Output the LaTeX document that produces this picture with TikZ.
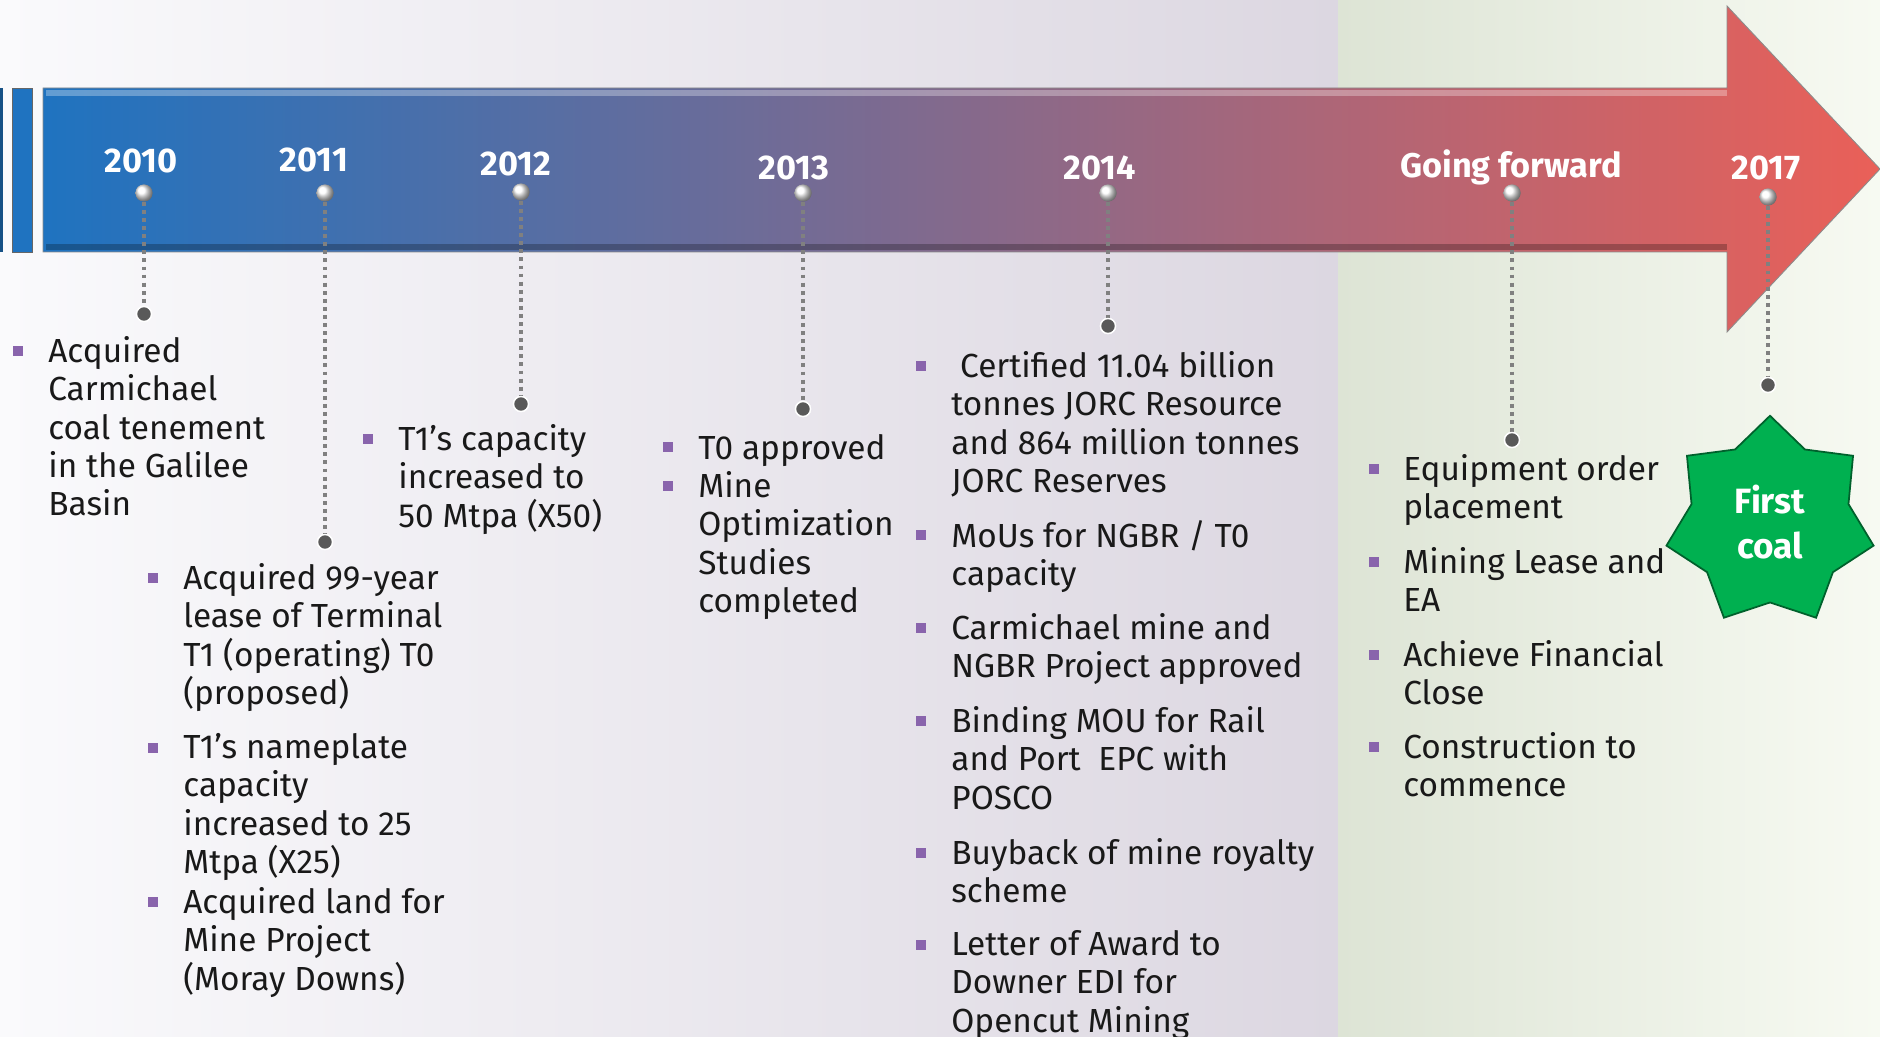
\documentclass[tikz,border=0pt]{standalone}
\usepackage{fontspec}
\setmainfont{Fira Sans}
\usetikzlibrary{positioning, shapes.geometric, calc}

\definecolor{barblue}{RGB}{31,115,192}
\definecolor{barmid}{RGB}{125,102,148}
\definecolor{barred}{RGB}{234,96,88}
\definecolor{bulpurple}{RGB}{137,100,172}
\definecolor{dotgrey}{RGB}{128,128,128}
\definecolor{stargreen}{RGB}{0,176,80}
\definecolor{bgleft}{RGB}{250,250,252}
\definecolor{bgmid}{RGB}{220,215,225}
\definecolor{bggreen}{RGB}{221,228,213}
\definecolor{bgright}{RGB}{247,250,242}

\begin{document}
\begin{tikzpicture}[x=0.02cm, y=-0.02cm,
  year/.style={text=white, font=\fontsize{19.5}{22}\selectfont\bfseries, inner sep=0pt},
  item/.style={anchor=north west, align=left, inner sep=0pt, text=black!90,
    font=\fontsize{19}{21.85}\selectfont, execute at begin node=\strut},
  bul/.style={rectangle, fill=bulpurple, minimum size=0.19cm, inner sep=0pt},
  topdot/.style={circle, ball color=white, minimum size=0.34cm, inner sep=0pt},
  enddot/.style={circle, fill=black!65, draw=white, line width=0.8pt, minimum size=0.3cm, inner sep=0pt},
  link/.style={dotgrey, line width=1.8pt, dash pattern=on 2.2pt off 2.4pt}]

  % background
  \fill[left color=bgleft, right color=bgmid] (0,0) rectangle (1338,1037);
  \fill[left color=bggreen, right color=bgright] (1338,0) rectangle (1880,1037);
  \useasboundingbox (0,0) rectangle (1880,1037);

  % timeline arrow
  \fill[barblue!70!black] (0,88) rectangle (3,252);
  \draw[fill=barblue, draw=black!60] (12,88) rectangle (32,252);
  \draw[draw=black!45, line width=0.5pt, left color=barblue, middle color=barmid, right color=barred]
    (43,88) -- (1727,88) -- (1727,6) -- (1880,169) -- (1727,332) -- (1727,252) -- (43,252) -- cycle;
  \draw[white, opacity=0.3, line width=3pt] (46,93) -- (1727,93);
  \draw[black, opacity=0.25, line width=3pt] (46,247) -- (1727,247);

  % years, dots and links
  \foreach \n/\x/\yt/\ye/\lab/\lx/\ly in {10/144/193/314/2010/141/161,
      11/325/193/542/2011/314/160, 12/521/192/404/2012/516/164,
      13/803/193/409/2013/794/168, 14/1108/193/326/2014/1100/168,
      gf/1512/193/440/Going forward/1511/167, 17/1768/197/385/2017/1766/168}{
    \node[year] (lab\n) at (\lx,\ly) {\lab};
    \node[enddot] (end\n) at (\x,\ye) {};
    \node[topdot] (top\n) at (\x,\yt) {};
    \draw[link] (top\n) -- (end\n);
    \node[topdot] at (top\n) {};
    \node[enddot] at (end\n) {};
  }

  % 2010
  \node[bul] (b10) at (18,351) {};
  \node[item] (t10) at (48,336) {Acquired\\Carmichael\\coal tenement\\in the Galilee\\Basin};

  % 2011
  \node[bul] (b11a) at (153,578) {};
  \node[item] (t11a) at (183,563) {Acquired 99-year\\lease of Terminal\\T1 (operating) T0\\(proposed)};
  \node[bul] (b11b) at (153,748) {};
  \node[item] (t11b) at (183,733) {T1’s nameplate\\capacity\\increased to 25\\Mtpa (X25)};
  \node[bul] (b11c) at (153,902) {};
  \node[item] (t11c) at (183,887) {Acquired land for\\Mine Project\\(Moray Downs)};

  % 2012
  \node[bul] (b12) at (368,439) {};
  \node[item] (t12) at (398,424) {T1’s capacity\\increased to\\50 Mtpa (X50)};

  % 2013
  \node[bul] (b13a) at (668,447) {};
  \node[item] (t13a) at (698,432) {T0 approved};
  \node[bul] (b13b) at (668,486) {};
  \node[item] (t13b) at (698,471) {Mine\\Optimization\\Studies\\completed};

  % 2014
  \node[bul] (b14a) at (921,366) {};
  \node[item] (t14a) at (951,351) {\ Certified 11.04 billion\\tonnes JORC Resource\\and 864 million tonnes\\JORC Reserves};
  \node[bul] (b14b) at (921,535) {};
  \node[item] (t14b) at (951,520) {MoUs for NGBR / T0\\capacity};
  \node[bul] (b14c) at (921,628) {};
  \node[item] (t14c) at (951,613) {Carmichael mine and\\NGBR Project approved};
  \node[bul] (b14d) at (921,721) {};
  \node[item] (t14d) at (951,706) {Binding MOU for Rail\\and Port\ \ EPC with\\POSCO};
  \node[bul] (b14e) at (921,853) {};
  \node[item] (t14e) at (951,838) {Buyback of mine royalty\\scheme};
  \node[bul] (b14f) at (921,945) {};
  \node[item] (t14f) at (951,930) {Letter of Award to\\Downer EDI for\\Opencut Mining};

  % going forward
  \node[bul] (bgfa) at (1374,469) {};
  \node[item] (tgfa) at (1403,454) {Equipment order\\placement};
  \node[bul] (bgfb) at (1374,562) {};
  \node[item] (tgfb) at (1403,547) {Mining Lease and\\EA};
  \node[bul] (bgfc) at (1374,655) {};
  \node[item] (tgfc) at (1403,640) {Achieve Financial\\Close};
  \node[bul] (bgfd) at (1374,747) {};
  \node[item] (tgfd) at (1403,732) {Construction to\\commence};

  % 2017
  \node[star, star points=7, star point ratio=1.32, minimum size=4.25cm, inner sep=0pt,
    fill=stargreen, draw=stargreen!55!black, line width=1pt, text=white, align=center,
    font=\fontsize{20}{26}\selectfont\bfseries] (coal) at (1770,522) {First\\coal};
\end{tikzpicture}
\end{document}
